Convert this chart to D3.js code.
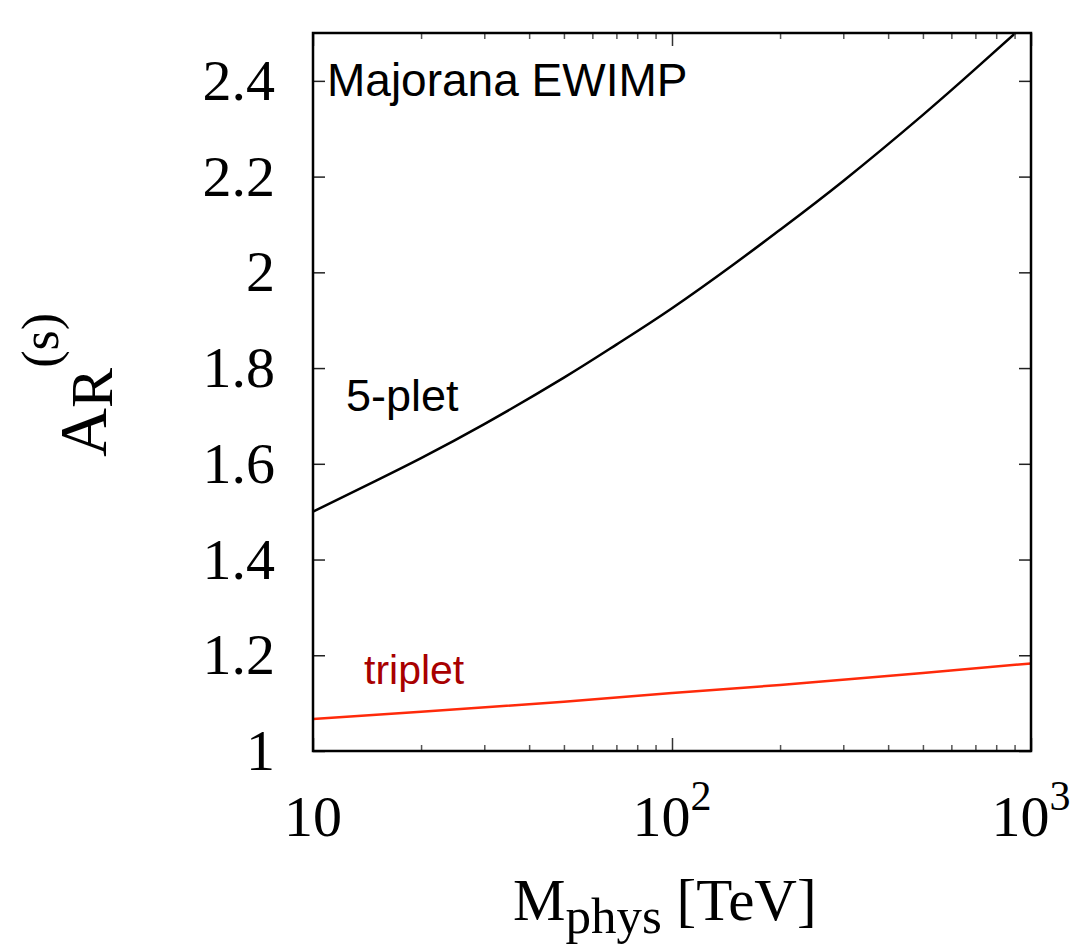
<!DOCTYPE html>
<html>
<head>
<meta charset="utf-8">
<script src="https://cdn.jsdelivr.net/npm/d3@7"></script>
<style>
  body { margin: 0; background: #fff; }
  svg { display: block; }
</style>
</head>
<body>
<svg id="grafico" width="1074" height="950"></svg>
<script>

//DATI

// curva nera: 5-pletto (M in TeV, A_R^(s))
var masse5 = [10, 15, 20, 30, 50, 70, 100, 150, 200, 300, 500, 700, 905];
var valori5 = [1.50, 1.565, 1.612, 1.683, 1.780, 1.849, 1.925, 2.019, 2.089, 2.191, 2.329, 2.425, 2.50];

// curva rossa: tripletto
var masse3 = [10, 20, 50, 100, 200, 500, 1000];
var valori3 = [1.067, 1.082, 1.103, 1.121, 1.138, 1.163, 1.183];

var tickY = [1, 1.2, 1.4, 1.6, 1.8, 2, 2.2, 2.4];
var etichetteY = ["1", "1.2", "1.4", "1.6", "1.8", "2", "2.2", "2.4"];

var tickX = [10, 100, 1000];
var baseX = ["10", "10", "10"];
var esponentiX = ["", "2", "3"];

var tickXMinori = [20, 30, 40, 50, 60, 70, 80, 90, 200, 300, 400, 500, 600, 700, 800, 900];

//VARIABILI

var svg;
var sinistra = 313, destra = 1031, alto = 33, basso = 751;
var serif = "'Liberation Serif', 'Times New Roman', serif";
var sans = "'Liberation Sans', Arial, Helvetica, sans-serif";

var x, y;

//FUNZIONI

function inizializzazione(){

    svg = d3.select("#grafico");

    x = d3.scaleLog().domain([10, 1000]).range([sinistra, destra]);
    y = d3.scaleLinear().domain([1, 2.5]).range([basso, alto]);

    disegnaCurve();
    disegnaAssi();
    disegnaTesti();

}

function disegnaCurve(){

    svg.append("clipPath").attr("id", "clip")
        .append("rect")
        .attr("x", sinistra).attr("y", alto)
        .attr("width", destra - sinistra).attr("height", basso - alto);

    var linea = d3.line()
        .x(d => x(d[0]))
        .y(d => y(d[1]))
        .curve(d3.curveNatural);

    svg.append("path")
        .datum(d3.zip(masse3, valori3))
        .attr("clip-path", "url(#clip)")
        .attr("d", linea)
        .attr("fill", "none")
        .attr("stroke", "#ff2a0a")
        .attr("stroke-width", 2.5);

    svg.append("path")
        .datum(d3.zip(masse5, valori5))
        .attr("clip-path", "url(#clip)")
        .attr("d", linea)
        .attr("fill", "none")
        .attr("stroke", "#000")
        .attr("stroke-width", 2.5);

}

function disegnaAssi(){

    // tacche minori x (basso e alto)
    svg.append("g")
        .attr("transform", "translate(0," + basso + ")")
        .call(d3.axisBottom(x).tickValues(tickXMinori).tickSize(-6).tickFormat(""))
        .call(g => g.select(".domain").remove())
        .selectAll("line").attr("stroke", "#555").attr("stroke-width", 1.5);

    svg.append("g")
        .attr("transform", "translate(0," + alto + ")")
        .call(d3.axisTop(x).tickValues(tickXMinori).tickSize(-6).tickFormat(""))
        .call(g => g.select(".domain").remove())
        .selectAll("line").attr("stroke", "#555").attr("stroke-width", 1.5);

    // tacche maggiori x
    svg.append("g")
        .attr("transform", "translate(0," + basso + ")")
        .call(d3.axisBottom(x).tickValues(tickX).tickSize(-13).tickFormat(""))
        .call(g => g.select(".domain").remove())
        .selectAll("line").attr("stroke", "#333").attr("stroke-width", 1.5);

    svg.append("g")
        .attr("transform", "translate(0," + alto + ")")
        .call(d3.axisTop(x).tickValues(tickX).tickSize(-13).tickFormat(""))
        .call(g => g.select(".domain").remove())
        .selectAll("line").attr("stroke", "#333").attr("stroke-width", 1.5);

    // asse y sinistro con etichette
    var assey = svg.append("g")
        .attr("transform", "translate(" + sinistra + ",0)")
        .call(d3.axisLeft(y).tickValues(tickY).tickSize(-12).tickPadding(38)
            .tickFormat((d, i) => etichetteY[i]));

    assey.select(".domain").remove();
    assey.selectAll("line").attr("stroke", "#222").attr("stroke-width", 1.5);
    assey.selectAll("text")
        .attr("font-family", serif)
        .attr("font-size", 58)
        .attr("fill", "#000")
        .attr("dy", "0.32em");
    assey.attr("font-family", null).attr("font-size", null);

    // asse y destro
    svg.append("g")
        .attr("transform", "translate(" + destra + ",0)")
        .call(d3.axisRight(y).tickValues(tickY).tickSize(-12).tickFormat(""))
        .call(g => g.select(".domain").remove())
        .selectAll("line").attr("stroke", "#222").attr("stroke-width", 1.5);

    // etichette x con esponente
    var etichette = svg.append("g")
        .selectAll("text")
        .data(tickX)
        .enter()
        .append("text")
        .attr("x", d => x(d))
        .attr("y", 836)
        .attr("text-anchor", "middle")
        .attr("font-family", serif)
        .attr("font-size", 58)
        .attr("fill", "#000");

    etichette.append("tspan").text((d, i) => baseX[i]);
    etichette.append("tspan")
        .attr("font-size", 42)
        .attr("dy", -26)
        .text((d, i) => esponentiX[i]);

    // cornice
    svg.append("rect")
        .attr("x", sinistra).attr("y", alto)
        .attr("width", destra - sinistra).attr("height", basso - alto)
        .attr("fill", "none")
        .attr("stroke", "#000")
        .attr("stroke-width", 2.5);

}

function disegnaTesti(){

    svg.append("text")
        .attr("x", 327).attr("y", 96)
        .attr("font-family", sans)
        .attr("font-size", 46)
        .attr("fill", "#000")
        .text("Majorana EWIMP");

    svg.append("text")
        .attr("x", 346).attr("y", 411)
        .attr("font-family", sans)
        .attr("font-size", 45)
        .attr("fill", "#000")
        .text("5-plet");

    svg.append("text")
        .attr("x", 364).attr("y", 684)
        .attr("font-family", sans)
        .attr("font-size", 41)
        .attr("fill", "#a80000")
        .text("triplet");

    // titolo asse x
    var titoloX = svg.append("text")
        .attr("x", 513).attr("y", 920)
        .attr("font-family", serif)
        .attr("font-size", 59)
        .attr("fill", "#000");
    titoloX.append("tspan").text("M");
    titoloX.append("tspan").attr("font-size", 51).attr("dy", 13).text("phys");
    titoloX.append("tspan").attr("dy", -13).text(" [TeV]");

    // titolo asse y
    var titoloY = svg.append("text")
        .attr("transform", "translate(106,457) rotate(-90)")
        .attr("font-family", serif)
        .attr("font-size", 68)
        .attr("fill", "#000");
    titoloY.append("tspan").text("A");
    titoloY.append("tspan").attr("font-size", 60).attr("dy", 6).text("R");
    titoloY.append("tspan").attr("font-size", 52).attr("dy", -54).text("(s)");

}

inizializzazione();

</script>
</body>
</html>
